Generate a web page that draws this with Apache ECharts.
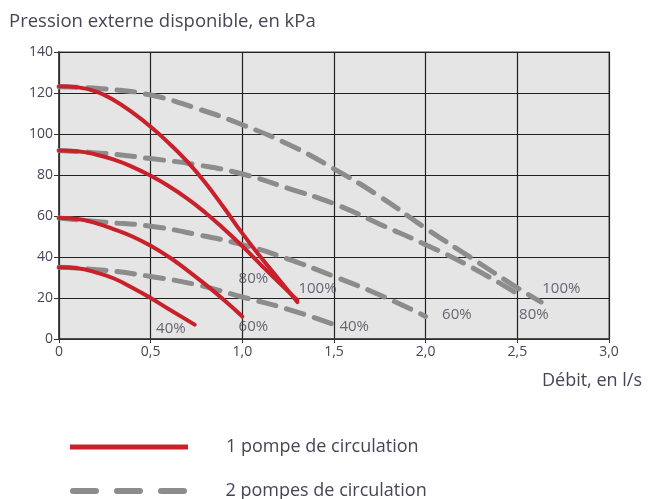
<!DOCTYPE html>
<html><head><meta charset="utf-8">
<script src="https://cdn.jsdelivr.net/npm/echarts@6/dist/echarts.min.js"></script>
<style>html,body{margin:0;padding:0;background:#fff}#c{width:649px;height:499px}</style>
</head><body><div id="c"></div>
<script>
// Axis ticks
const xTickValues = [0, 0.5, 1, 1.5, 2, 2.5, 3];
const yTickValues = [0, 20, 40, 60, 80, 100, 120, 140];

// 1 pompe de circulation
const onePump100 = [[0,123.3],[0.1,122.8],[0.2,120.8],[0.3,116.5],[0.4,110.5],[0.5,103.5],[0.6,95.5],[0.7,86.5],[0.8,76],[0.9,64],[1.0,51.5],[1.1,40],[1.2,29],[1.3,18]];
const onePump80  = [[0,92],[0.1,91.6],[0.2,90],[0.3,87.5],[0.4,84],[0.5,79.6],[0.6,74.5],[0.7,68.5],[0.8,61.5],[0.9,53.7],[1.0,45.3],[1.1,36.3],[1.2,27.5],[1.3,19]];
const onePump60  = [[0,59],[0.1,58.5],[0.2,56.5],[0.3,53.5],[0.4,50],[0.5,45.5],[0.6,40],[0.7,33.5],[0.8,26.5],[0.9,19],[1.0,11]];
const onePump40  = [[0,35],[0.1,34.5],[0.2,32.5],[0.3,29.5],[0.4,25],[0.5,20],[0.6,14.5],[0.74,7]];

// 2 pompes de circulation
const twoPumps100 = [[0,123],[0.25,122],[0.5,119],[0.75,112.5],[1.0,104.5],[1.25,95],[1.5,83],[1.75,69.5],[2.0,54],[2.25,39.5],[2.5,25],[2.63,18]];
const twoPumps80  = [[0,92],[0.25,90.5],[0.5,88],[0.75,85],[1.0,80.5],[1.25,73.5],[1.5,66],[1.75,56],[2.0,46],[2.25,35],[2.52,21]];
const twoPumps60  = [[0,59],[0.25,57],[0.5,55],[0.75,51],[1.0,46],[1.25,39],[1.5,30.5],[1.75,21.5],[2.0,11]];
const twoPumps40  = [[0,35],[0.25,33.5],[0.5,30.5],[0.75,26.5],[1.0,20.5],[1.25,14.5],[1.5,7]];

// Curve annotations
const labelTexts = ['40%','60%','80%','100%','40%','60%','80%','100%'];
const labelPositions = [[0.61,4.9],[1.06,5.9],[1.06,29.3],[1.41,24.4],[1.61,5.9],[2.17,11.7],[2.59,11.7],[2.74,24.4]];

const seriesOneName = '1 pompe de circulation';
const seriesTwoName = '2 pompes de circulation';

const RED = '#c8212b', GRAY = '#8c8c8c', TXT = '#454556';
const FONT = 'Open Sans';

function fmt(v){ return v === 0 ? '0' : v.toFixed(1).replace('.', ','); }

const chart = echarts.init(document.getElementById('c'), null, {renderer:'canvas'});

function grayLine(d){
  return {type:'line', name:seriesTwoName, data:d, smooth:true, showSymbol:false, symbol:'none', z:2,
    lineStyle:{color:GRAY, width:5, type:[18,11], cap:'round'}, itemStyle:{color:GRAY}};
}
function redLine(d){
  return {type:'line', name:seriesOneName, data:d, smooth:true, showSymbol:false, symbol:'none', z:3,
    lineStyle:{color:RED, width:4, cap:'round'}, itemStyle:{color:RED}};
}

const legendText = {fontSize:18, color:TXT, fontFamily:FONT, padding:[3,0,0,33]};

chart.setOption({
  animation:false,
  backgroundColor:'#ffffff',
  textStyle:{fontFamily:FONT},
  title:[
    {text:'Pression externe disponible, en kPa', left:4, top:7,
     textStyle:{fontSize:18.5, fontWeight:'normal', color:TXT, fontFamily:FONT}},
    {text:'Débit, en l/s', right:2, top:367,
     textStyle:{fontSize:18, fontWeight:'normal', color:TXT, fontFamily:FONT}}
  ],
  grid:{left:59, top:52, right:40, bottom:160, show:true, backgroundColor:'#e5e5e5', borderColor:'#a0a0a0', borderWidth:2},
  legend:[
    {left:70, top:438, padding:0, itemWidth:118, itemHeight:5,
     icon:'path://M0,0H118V5H0Z',
     data:[seriesOneName], textStyle:legendText},
    {left:70, top:482, padding:0, itemWidth:118, itemHeight:6,
     icon:'path://M3,0H26A3,3 0 0 1 26,6H3A3,3 0 0 1 3,0Z M47,0H70A3,3 0 0 1 70,6H47A3,3 0 0 1 47,0Z M91,0H114A3,3 0 0 1 114,6H91A3,3 0 0 1 91,0Z',
     data:[seriesTwoName], textStyle:legendText}
  ],
  xAxis:{type:'value', min:0, max:3, interval:0.5,
    axisLine:{lineStyle:{color:'#333', width:1.5}},
    axisTick:{show:true, length:4, lineStyle:{color:'#333'}},
    axisLabel:{formatter:fmt, color:TXT, fontSize:14, margin:6, fontFamily:FONT},
    splitLine:{show:true, lineStyle:{color:'#222', width:1.2}}},
  yAxis:{type:'value', min:0, max:140, interval:20,
    axisLine:{show:true, lineStyle:{color:'#333', width:1.5}},
    axisTick:{show:true, length:5, lineStyle:{color:'#333'}},
    axisLabel:{color:TXT, fontSize:14, margin:6, fontFamily:FONT},
    splitLine:{show:true, lineStyle:{color:'#222', width:1.2}}},
  series:[
    grayLine(twoPumps100), grayLine(twoPumps80), grayLine(twoPumps60), grayLine(twoPumps40),
    redLine(onePump100), redLine(onePump80), redLine(onePump60), redLine(onePump40),
    {type:'scatter', name:'labels', symbolSize:1, z:4, itemStyle:{color:'rgba(0,0,0,0)'},
     data:labelPositions.map((p,i)=>({value:p, name:labelTexts[i]})),
     label:{show:true, position:'inside', formatter:p=>p.name, color:TXT, fontSize:15, fontFamily:FONT},
     silent:true}
  ]
});
</script>
</body></html>
